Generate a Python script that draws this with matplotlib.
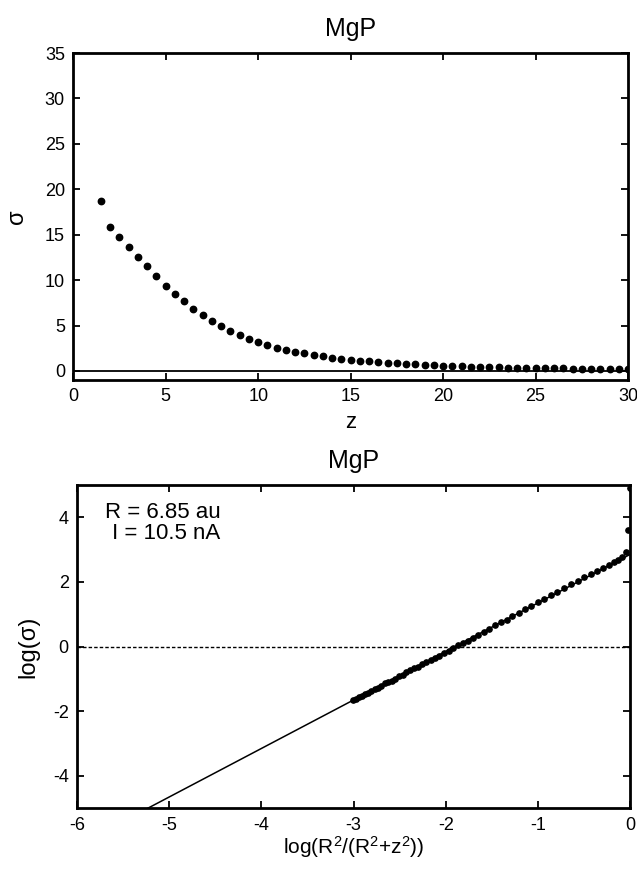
import numpy as np
import matplotlib
matplotlib.use('Agg')
import matplotlib.pyplot as plt

plt.rcParams['font.family'] = ['Liberation Sans', 'DejaVu Sans']
plt.rcParams['mathtext.fontset'] = 'custom'
plt.rcParams['mathtext.rm'] = 'Liberation Sans'
plt.rcParams['mathtext.default'] = 'regular'
plt.rcParams['axes.unicode_minus'] = False

# radius used in the log plot
R = 6.85

# sigma vs z (tail refined from the log panel)
z = [0.5, 1.0,
     1.5, 2.0, 2.5, 3.0, 3.5, 4.0, 4.5, 5.0, 5.5, 6.0,
     6.5, 7.0, 7.5, 8.0, 8.5, 9.0, 9.5, 10.0, 10.5, 11.0,
     11.5, 12.0, 12.5, 13.0, 13.5, 14.0, 14.5, 15.0, 15.5, 16.0,
     16.5, 17.0, 17.5, 18.0, 18.5, 19.0, 19.5, 20.0, 20.5, 21.0,
     21.5, 22.0, 22.5, 23.0, 23.5, 24.0, 24.5, 25.0, 25.5, 26.0,
     26.5, 27.0, 27.5, 28.0, 28.5, 29.0, 29.5, 30.0]
sigma = [134.0, 36.6,
         18.75, 15.9, 14.75, 13.65, 12.55, 11.5, 10.45, 9.4, 8.5, 7.67,
         6.86, 6.17, 5.5, 4.92, 4.4, 3.96, 3.52, 3.16, 2.86, 2.57,
         2.31, 2.13, 1.94, 1.74, 1.59, 1.45, 1.32, 1.2, 1.12, 1.04,
         0.96, 0.88, 0.82, 0.76, 0.71, 0.66, 0.62, 0.58, 0.54, 0.51,
         0.48, 0.45, 0.42, 0.40, 0.37, 0.35, 0.33, 0.32, 0.30, 0.28,
         0.27, 0.255, 0.24, 0.23, 0.22, 0.21, 0.20, 0.19]

# straight line drawn in the log panel
fit_slope = 1.5
fit_intercept = 2.85

z = np.array(z)
sigma = np.array(sigma)
log_x = np.log(R**2 / (R**2 + z**2))
log_y = np.log(sigma)

fig = plt.figure(figsize=(6.37, 8.71), dpi=100)

# top panel: sigma vs z
ax1 = fig.add_axes([0.115, 0.5637, 0.871, 0.3754])
ax1.plot(z, sigma, 'o', color='black', markersize=4.6)
ax1.axhline(0, color='black', linewidth=1.3)
ax1.set_xlim(0, 30)
ax1.set_ylim(-1, 35)
ax1.set_xticks(range(0, 31, 5))
ax1.set_yticks(range(0, 36, 5))
ax1.set_title('MgP', fontsize=18, pad=12)
ax1.set_xlabel('z', fontsize=16, labelpad=5)
ax1.set_ylabel('σ', fontsize=17, labelpad=12)

# bottom panel: log-log form
ax2 = fig.add_axes([0.121, 0.072, 0.868, 0.3712])
ax2.plot([-6, 0], [fit_slope * -6 + fit_intercept, fit_intercept],
         color='black', linewidth=1.1)
ax2.plot(log_x, log_y, 'o', color='black', markersize=3.8)
ax2.axhline(0, color='black', linewidth=1.0, linestyle=(0, (2.5, 1.5)))
ax2.set_xlim(-6, 0)
ax2.set_ylim(-5, 5)
ax2.set_xticks(range(-6, 1))
ax2.set_yticks([-4, -2, 0, 2, 4])
ax2.set_title('MgP', fontsize=18, pad=12)
ax2.set_xlabel('log(R$^2$/(R$^2$+z$^2$))', fontsize=15, labelpad=0)
ax2.set_ylabel('log(σ)', fontsize=17, labelpad=10)
ax2.text(0.155, 0.882, 'R = 6.85 au\n I = 10.5 nA', transform=ax2.transAxes,
         ha='center', va='center', fontsize=16, linespacing=1.0)

for ax in (ax1, ax2):
    ax.tick_params(direction='in', top=True, right=True, length=5,
                   width=1.3, labelsize=13, pad=6)
    for sp in ax.spines.values():
        sp.set_linewidth(2.0)

fig.savefig('out.png', dpi=100)
